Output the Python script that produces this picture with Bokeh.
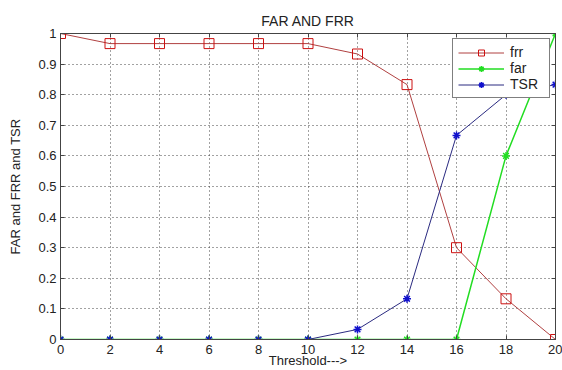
from bokeh.plotting import figure
from bokeh.models import Range1d, LinearAxis, FixedTicker, CustomJSTickFormatter, Legend, LegendItem
from bokeh.embed import file_html
from bokeh.resources import INLINE

threshold = [0, 2, 4, 6, 8, 10, 12, 14, 16, 18, 20]
frr = [1.0, 0.967, 0.967, 0.967, 0.967, 0.967, 0.933, 0.833, 0.3, 0.133, 0.0]
far = [0, 0, 0, 0, 0, 0, 0, 0, 0, 0.6, 1.0]
tsr = [0, 0, 0, 0, 0, 0, 0.033, 0.133, 0.667, 0.8, 0.833]
x_ticks = [0, 2, 4, 6, 8, 10, 12, 14, 16, 18, 20]
y_ticks = [0, 0.1, 0.2, 0.3, 0.4, 0.5, 0.6, 0.7, 0.8, 0.9, 1.0]

FONT = "Liberation Sans"

p = figure(width=562, height=370, output_backend="svg", toolbar_location=None,
           x_range=Range1d(0, 20), y_range=Range1d(0, 1),
           title="FAR AND FRR", min_border_right=7, min_border_left=60,
           min_border_top=33, min_border_bottom=30)
p.title.align = "center"
p.title.text_font = FONT
p.title.text_font_size = "14px"
p.title.text_font_style = "normal"
p.title.text_color = "#222222"
p.title.standoff = 10

p.outline_line_color = "#444444"
p.outline_line_width = 1

fmt = CustomJSTickFormatter(code="return String(Math.round(tick*10)/10);")

for ax in (p.xaxis[0], p.yaxis[0]):
    ax.major_tick_in = 4
    ax.major_tick_out = 0
    ax.minor_tick_line_color = None
    ax.axis_line_color = "#444444"
    ax.major_tick_line_color = "#444444"
    ax.major_label_text_font = FONT
    ax.major_label_text_font_size = "13px"
    ax.major_label_text_color = "#222222"
    ax.axis_label_text_font = FONT
    ax.axis_label_text_font_size = "13px"
    ax.axis_label_text_font_style = "normal"
    ax.axis_label_text_color = "#222222"
    ax.formatter = fmt

p.xaxis[0].ticker = FixedTicker(ticks=x_ticks)
p.yaxis[0].ticker = FixedTicker(ticks=y_ticks)
p.xaxis[0].axis_label = "Threshold--->"
p.yaxis[0].axis_label = "FAR and FRR and TSR"
p.xaxis[0].major_label_standoff = 5
p.yaxis[0].major_label_standoff = 4
p.xaxis[0].axis_label_standoff = -4
p.yaxis[0].axis_label_standoff = 12

blank = CustomJSTickFormatter(code="return '';")
for loc, tk in (("above", x_ticks), ("right", y_ticks)):
    ax = LinearAxis(ticker=FixedTicker(ticks=tk), major_tick_in=4, major_tick_out=0,
                    minor_tick_line_color=None, axis_line_color="#444444",
                    major_tick_line_color="#444444", formatter=blank,
                    major_label_standoff=0)
    p.add_layout(ax, loc)

for g in (p.xgrid[0], p.ygrid[0]):
    g.grid_line_color = "#444444"
    g.grid_line_dash = "1 3"
    g.grid_line_width = 1
p.xgrid[0].ticker = FixedTicker(ticks=x_ticks)
p.ygrid[0].ticker = FixedTicker(ticks=y_ticks)

c_frr_line = "#b04040"
c_frr_mark = "#cc1010"
c_far = "#22dd22"
c_tsr_line = "#2a2a80"
c_tsr_mark = "#1010cc"

l1 = p.line(threshold, frr, line_color=c_frr_line, line_width=1)
m1 = p.scatter(threshold, frr, marker="square", size=10, fill_color=None, line_color=c_frr_mark, line_width=1)
l2 = p.line(threshold, far, line_color=c_far, line_width=1.5)
m2 = p.scatter(threshold, far, marker="asterisk", size=8, line_color=c_far, line_width=1.5)
l3 = p.line(threshold, tsr, line_color=c_tsr_line, line_width=1)
m3 = p.scatter(threshold, tsr, marker="asterisk", size=8, line_color=c_tsr_mark, line_width=1.5)

legend = Legend(items=[LegendItem(label="frr", renderers=[l1, m1]),
                       LegendItem(label="far", renderers=[l2, m2]),
                       LegendItem(label="TSR", renderers=[l3, m3])],
                location="top_right")
legend.label_text_font = FONT
legend.label_text_font_size = "14px"
legend.label_text_color = "#222222"
legend.border_line_color = "black"
legend.border_line_width = 1
legend.background_fill_alpha = 1
legend.glyph_width = 46
legend.glyph_height = 15
legend.label_height = 15
legend.label_width = 34
legend.spacing = 0
legend.padding = 5
legend.margin = 5
legend.label_standoff = 6
p.add_layout(legend)

open("out.html", "w").write(file_html(p, INLINE))
